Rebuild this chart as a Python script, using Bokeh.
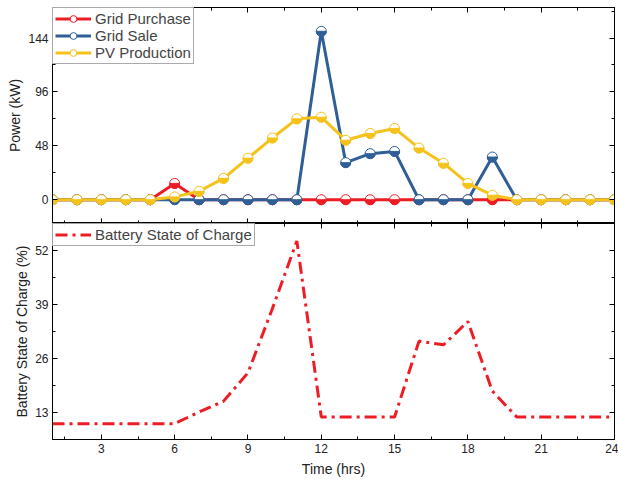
import math
from bokeh.plotting import figure
from bokeh.layouts import column
from bokeh.models import (LinearAxis, SingleIntervalTicker, Range1d, Legend,
                          LegendItem, CustomJSTickFormatter)
from bokeh.embed import file_html
from bokeh.resources import INLINE

hours = [1, 2, 3, 4, 5, 6, 7, 8, 9, 10, 11, 12, 13, 14, 15, 16, 17, 18, 19, 20, 21, 22, 23, 24]
grid_purchase = [0, 0, 0, 0, 0, 14.5, 0, 0, 0, 0, 0, 0, 0, 0, 0, 0, 0, 0, 0, 0, 0, 0, 0, 0]
grid_sale = [0, 0, 0, 0, 0, 0, 0, 0, 0, 0, 0, 150, 33, 41, 43, 0, 0, 0, 38, 0, 0, 0, 0, 0]
pv_production = [0, 0, 0, 0, 0, 2.5, 7.5, 19, 37, 55, 72, 73.5, 53, 59, 63.5, 46, 32.5, 14.5, 4, 0, 0, 0, 0, 0]
battery_soc = [10.4, 10.4, 10.4, 10.4, 10.4, 10.4, 13.2, 15.8, 22.6, 38, 54.2, 12, 12, 12, 12,
               30.2, 29.3, 34.9, 18.2, 12, 12, 12, 12, 12]

FONT = "Liberation Sans"
RED = "#ee1c24"
BLUE = "#2f5f96"
YELLOW = "#f5c21b"

FW = 562
FH = 216
LEFT = 52


def style_axes(p, xlabels, ylabel, xtick, ytick):
    p.xaxis.visible = False
    p.yaxis.visible = False
    for side in ["left", "right", "above", "below"]:
        if side in ("left", "right"):
            ax = LinearAxis(ticker=SingleIntervalTicker(interval=ytick, num_minor_ticks=2))
        else:
            ax = LinearAxis(ticker=SingleIntervalTicker(interval=xtick, num_minor_ticks=2))
        ax.major_tick_in = 5
        ax.major_tick_out = 0
        ax.minor_tick_in = 3
        ax.minor_tick_out = 0
        ax.axis_line_color = "black"
        ax.major_tick_line_color = "black"
        ax.minor_tick_line_color = "black"
        ax.major_label_text_font = FONT
        ax.major_label_text_font_size = "12px"
        ax.major_label_text_color = "#222222"
        ax.axis_label_text_font = FONT
        ax.axis_label_text_font_size = "14px"
        ax.axis_label_text_font_style = "normal"
        ax.axis_label_text_color = "#222222"
        show = (side == "left") or (side == "below" and xlabels)
        if not show:
            ax.formatter = CustomJSTickFormatter(code="return '';")
            ax.major_label_text_font_size = "0px"
            ax.major_label_standoff = 0
        else:
            ax.major_label_standoff = 4
            ax.axis_label_standoff = 2 if side == "left" else 5
        if side == "left":
            ax.axis_label = ylabel
        if side == "below" and xlabels:
            ax.axis_label = "Time (hrs)"
        p.add_layout(ax, side)
    p.xgrid.visible = False
    p.ygrid.visible = False
    p.outline_line_color = "black"


def half_markers(p, x, y, color):
    c = p.scatter(x, y, size=10, marker="circle", fill_color="white",
                  line_color=color, line_width=1)
    w = p.wedge(x, y, radius=5, radius_units="screen", start_angle=math.pi,
                end_angle=2 * math.pi, fill_color=color, line_color=color)
    return c, w


top = figure(width=LEFT + FW + 4, height=7 + FH, frame_width=FW, frame_height=FH,
             x_range=Range1d(1, 24), y_range=Range1d(-21.2, 171.2),
             output_backend="svg", toolbar_location=None,
             min_border_left=LEFT, min_border_right=4, min_border_top=7, min_border_bottom=0)
style_axes(top, False, "Power (kW)", 3, 48)

items = []
for vals, color, name in [(grid_purchase, RED, "Grid Purchase"),
                          (grid_sale, BLUE, "Grid Sale"),
                          (pv_production, YELLOW, "PV Production")]:
    l = top.line(hours, vals, line_color=color, line_width=3)
    c, w = half_markers(top, hours, vals, color)
    items.append(LegendItem(label=name, renderers=[l, c]))

leg = Legend(items=items, location="top_left", margin=0, padding=2, spacing=0,
             glyph_width=36, glyph_height=17, label_height=17, label_standoff=4,
             label_text_font=FONT, label_text_font_size="15px",
             border_line_color="#555555", border_line_width=1,
             background_fill_alpha=1.0)
top.add_layout(leg)

bot = figure(width=LEFT + FW + 4, height=FH + 41, frame_width=FW, frame_height=FH,
             x_range=top.x_range, y_range=Range1d(6.6, 58.4),
             output_backend="svg", toolbar_location=None,
             min_border_left=LEFT, min_border_right=4, min_border_top=0, min_border_bottom=0)
style_axes(bot, True, "Battery State of Charge (%)", 3, 13)

sl = bot.line(hours, battery_soc, line_color=RED, line_width=3, line_dash="12 5 3 5")
leg2 = Legend(items=[LegendItem(label="Battery State of Charge", renderers=[sl])],
              location="top_left", margin=0, padding=2, spacing=0,
              glyph_width=36, glyph_height=15, label_height=15, label_standoff=4,
              label_text_font=FONT, label_text_font_size="15px",
              border_line_color="#555555", border_line_width=1)
bot.add_layout(leg2)

layout = column(top, bot, spacing=0)
open("out.html", "w").write(file_html(layout, INLINE))
